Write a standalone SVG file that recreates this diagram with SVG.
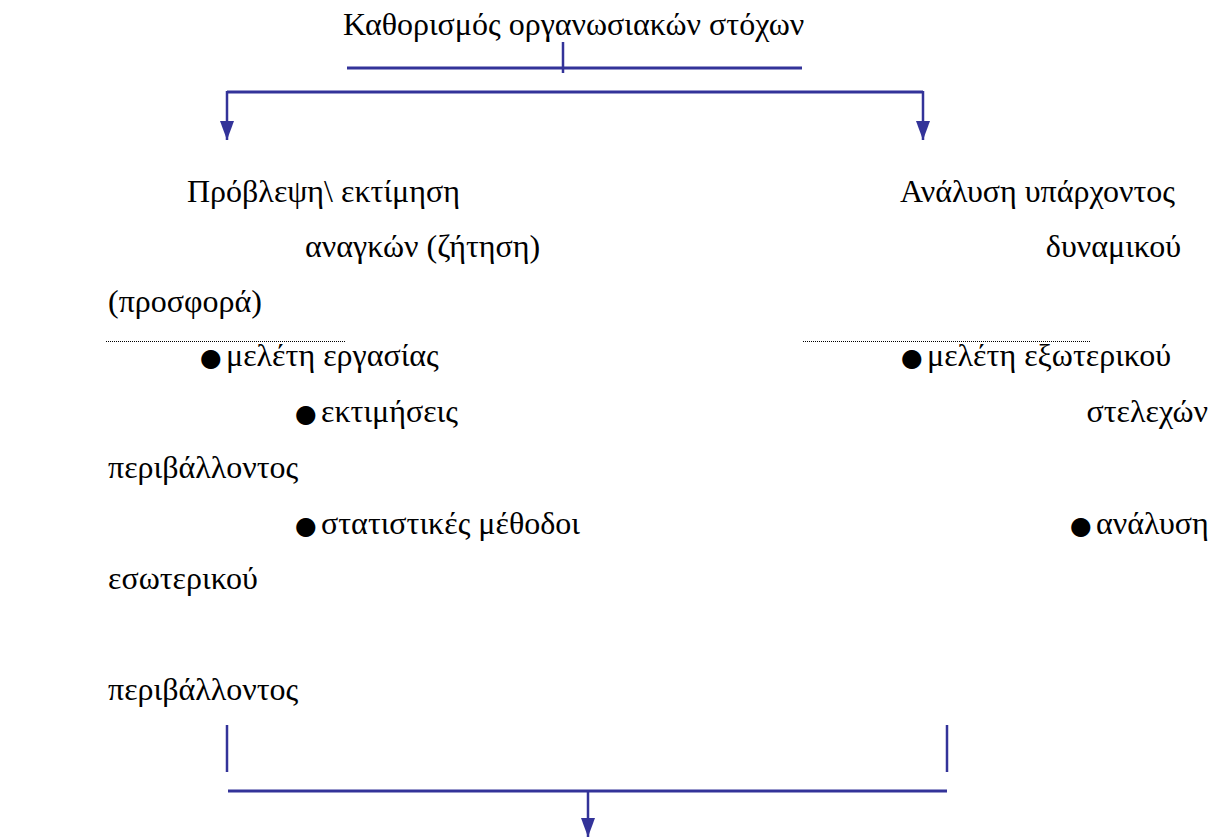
<svg xmlns="http://www.w3.org/2000/svg" width="1225" height="837" viewBox="0 0 1225 837">
  <style>
    text { font-family: "Liberation Serif", "Times New Roman", serif; font-size: 32px; fill: #000; }
    .bul { font-family: "DejaVu Sans", sans-serif; font-size: 25px; }
    .conn { stroke: #333399; fill: none; }
    .thick { stroke-width: 3; }
    .thin { stroke-width: 2.5; }
    .dots { stroke: #000; stroke-width: 1; stroke-dasharray: 1 1; }
  </style>
  <defs>
    <marker id="arrow" markerUnits="userSpaceOnUse" markerWidth="16" markerHeight="20" refX="8" refY="19" orient="0">
      <path d="M1,0 L15,0 L8,19 Z" fill="#333399"/>
    </marker>
  </defs>
  <rect width="1225" height="837" fill="#fff"/>

  <g id="node-goals">
    <text x="343" y="35">Καθορισμός οργανωσιακών στόχων</text>
  </g>

  <g id="node-forecast">
    <text x="187" y="202">Πρόβλεψη\ εκτίμηση</text>
    <text x="305" y="257">αναγκών (ζήτηση)</text>
    <text x="108" y="312">(προσφορά)</text>
    <line class="dots" x1="106" y1="341.5" x2="345" y2="341.5"/>
    <text y="366"><tspan class="bul" x="200">●</tspan><tspan x="226">μελέτη εργασίας</tspan></text>
    <text y="422"><tspan class="bul" x="295">●</tspan><tspan x="321">εκτιμήσεις</tspan></text>
    <text x="108" y="478">περιβάλλοντος</text>
    <text y="534"><tspan class="bul" x="295">●</tspan><tspan x="321">στατιστικές μέθοδοι</tspan></text>
    <text x="108" y="589">εσωτερικού</text>
    <text x="108" y="700">περιβάλλοντος</text>
  </g>

  <g id="node-existing">
    <text x="900" y="202">Ανάλυση υπάρχοντος</text>
    <text x="1181" y="257" text-anchor="end">δυναμικού</text>
    <line class="dots" x1="803" y1="341.5" x2="1090" y2="341.5"/>
    <text y="366"><tspan class="bul" x="901">●</tspan><tspan x="927">μελέτη εξωτερικού</tspan></text>
    <text x="1208" y="422" text-anchor="end">στελεχών</text>
    <text y="534"><tspan class="bul" x="1070">●</tspan><tspan x="1096">ανάλυση</tspan></text>
  </g>

  <g id="connectors">
    <line class="conn thick" x1="347" y1="68" x2="802" y2="68"/>
    <line class="conn thin" x1="563" y1="42" x2="563" y2="73"/>
    <line class="conn thick" x1="227" y1="92" x2="923" y2="92"/>
    <line class="conn thin" x1="227" y1="91" x2="227" y2="140" marker-end="url(#arrow)"/>
    <line class="conn thin" x1="923" y1="91" x2="923" y2="140" marker-end="url(#arrow)"/>
    <line class="conn thin" x1="227" y1="725" x2="227" y2="772"/>
    <line class="conn thin" x1="947" y1="725" x2="947" y2="772"/>
    <line class="conn thick" x1="228" y1="791" x2="947" y2="791"/>
    <line class="conn thin" x1="588" y1="791" x2="588" y2="837" marker-end="url(#arrow)"/>
  </g>
</svg>
